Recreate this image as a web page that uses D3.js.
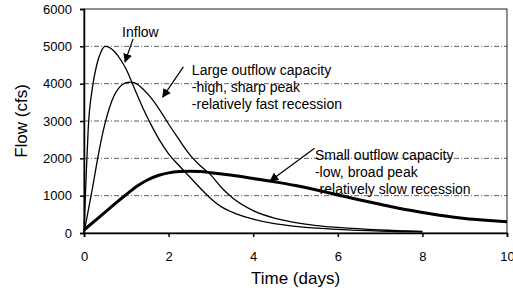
<html>
<meta charset="utf-8" />
<head>
<title>Reservoir routing hydrographs</title>
<script src="https://cdn.jsdelivr.net/npm/d3@7"></script>
<style>
	body { margin: 0; background: #fff; }
	svg { font-family: "Liberation Sans", Arial, sans-serif; }
	.grid line { stroke: #333; stroke-width: 0.8px; stroke-dasharray: 5,2,1,2; }
	.axis path, .axis line { stroke: #000; stroke-width: 1.5px; }
	.axis text { font-size: 13px; fill: #000; }
	.note { font-size: 14px; fill: #000; }
</style>
</head>
<body>
<svg width="513" height="296"></svg>
<script>
// time axis (days)
const inflowT = [0, 0.05, 0.1, 0.2, 0.3, 0.4, 0.5, 0.6, 0.7, 0.8, 0.9, 1.0, 1.2, 1.4, 1.6, 1.8, 2.0, 2.25, 2.5, 2.75, 3.0, 3.25, 3.5, 4.0, 4.5, 5.0, 5.5, 6.0, 7.0, 8.0];
const inflowQ = [0, 1500, 2800, 3900, 4500, 4850, 5000, 4970, 4880, 4750, 4580, 4380, 3850, 3330, 2870, 2460, 2120, 1800, 1500, 1200, 920, 700, 560, 370, 250, 180, 130, 95, 50, 30];

const largeT = [0, 0.1, 0.2, 0.3, 0.4, 0.5, 0.6, 0.7, 0.8, 0.9, 1.0, 1.1, 1.2, 1.4, 1.6, 1.8, 2.0, 2.2, 2.5, 2.75, 3.0, 3.25, 3.5, 4.0, 4.5, 5.0, 5.5, 6.0, 7.0, 8.0];
const largeQ = [0, 600, 1200, 1850, 2450, 2950, 3350, 3650, 3850, 3970, 4030, 4040, 4020, 3850, 3600, 3280, 2920, 2580, 2100, 1800, 1550, 1220, 950, 600, 400, 280, 200, 150, 80, 40];

const smallT = [0, 0.25, 0.5, 0.75, 1.0, 1.25, 1.5, 1.75, 2.0, 2.25, 2.5, 2.75, 3.0, 3.5, 4.0, 4.5, 5.0, 5.5, 6.0, 6.5, 7.0, 7.5, 8.0, 8.5, 9.0, 9.5, 10.0];
const smallQ = [80, 320, 560, 800, 1030, 1250, 1420, 1540, 1610, 1645, 1655, 1645, 1615, 1545, 1460, 1370, 1270, 1150, 1020, 890, 770, 650, 550, 460, 390, 340, 300];

const yTicks = [0, 1000, 2000, 3000, 4000, 5000, 6000];
const xTicks = [0, 2, 4, 6, 8, 10];

// annotation text, anchored in data units (days, cfs)
const inflowNote = ['Inflow'];
const largeNote = ['Large outflow capacity', '-high, sharp peak', '-relatively fast recession'];
const smallNote = ['Small outflow capacity', '-low, broad peak', '-relatively slow recession'];

const svg = d3.select('svg');
const plotL = 84, plotR = 507, plotT = 9, plotB = 233;

let xScale = d3.scaleLinear().domain([0, 10]).range([plotL, plotR]);
let yScale = d3.scaleLinear().domain([0, 6000]).range([plotB, plotT]);

svg.append('defs').append('marker')
	.attr('id', 'head')
	.attr('viewBox', '0 0 10 10')
	.attr('refX', 9).attr('refY', 5)
	.attr('markerWidth', 9).attr('markerHeight', 9)
	.attr('markerUnits', 'userSpaceOnUse')
	.attr('orient', 'auto')
	.append('path').attr('d', 'M0,0 L10,5 L0,10 Z').style('fill', '#000');

// dashed grid lines
svg.append('g').attr('class', 'grid')
	.selectAll('line').data(yTicks.slice(1, -1)).enter()
	.append('line')
	.attr('x1', plotL).attr('x2', plotR)
	.attr('y1', d => yScale(d)).attr('y2', d => yScale(d));

// box
svg.append('rect')
	.attr('x', plotL).attr('y', plotT)
	.attr('width', plotR - plotL).attr('height', plotB - plotT)
	.style('fill', 'none').style('stroke', '#222').style('stroke-width', '1px');

let xAxis = d3.axisBottom(xScale).tickValues(xTicks).tickFormat(d3.format('d')).tickSize(4).tickPadding(15);
svg.append('g').attr('class', 'axis').attr('transform', 'translate(0,' + plotB + ')').call(xAxis);

let yAxis = d3.axisLeft(yScale).tickValues(yTicks).tickFormat(d3.format('d')).tickSize(4).tickPadding(8);
svg.append('g').attr('class', 'axis').attr('transform', 'translate(' + plotL + ',0)').call(yAxis);

// curves
const line = d3.line().x(d => xScale(d[0])).y(d => yScale(d[1])).curve(d3.curveMonotoneX);

function draw(ts, qs, w) {
	svg.append('path')
		.datum(ts.map((t, i) => [t, qs[i]]))
		.attr('d', line)
		.style('fill', 'none').style('stroke', '#000').style('stroke-width', w);
}
draw(inflowT, inflowQ, '1.3px');
draw(largeT, largeQ, '1.3px');
draw(smallT, smallQ, '3px');

// notes
function note(lines, t, q) {
	svg.append('text').attr('class', 'note')
		.attr('x', xScale(t)).attr('y', yScale(q))
		.selectAll('tspan').data(lines).enter()
		.append('tspan')
		.attr('x', xScale(t))
		.attr('dy', (d, i) => i ? 17 : 0)
		.text(d => d);
}
note(inflowNote, 0.9, 5250);
note(largeNote, 2.55, 4230);
note(smallNote, 5.46, 1950);

function arrow(t1, q1, t2, q2) {
	svg.append('line')
		.attr('x1', xScale(t1)).attr('y1', yScale(q1))
		.attr('x2', xScale(t2)).attr('y2', yScale(q2))
		.attr('marker-end', 'url(#head)')
		.style('stroke', '#000').style('stroke-width', '1.2px');
}
arrow(1.16, 5200, 0.97, 4580);
arrow(2.35, 4450, 1.86, 3640);
arrow(5.45, 2270, 4.4, 1390);

// axis titles
svg.append('text')
	.attr('x', (plotL + plotR) / 2).attr('y', 284)
	.attr('text-anchor', 'middle')
	.style('font-size', '17px')
	.text('Time (days)');

svg.append('text')
	.attr('transform', 'translate(27,' + (plotT + plotB) / 2 + ') rotate(-90)')
	.attr('text-anchor', 'middle')
	.style('font-size', '17px')
	.text('Flow (cfs)');
</script>
</body>
</html>
